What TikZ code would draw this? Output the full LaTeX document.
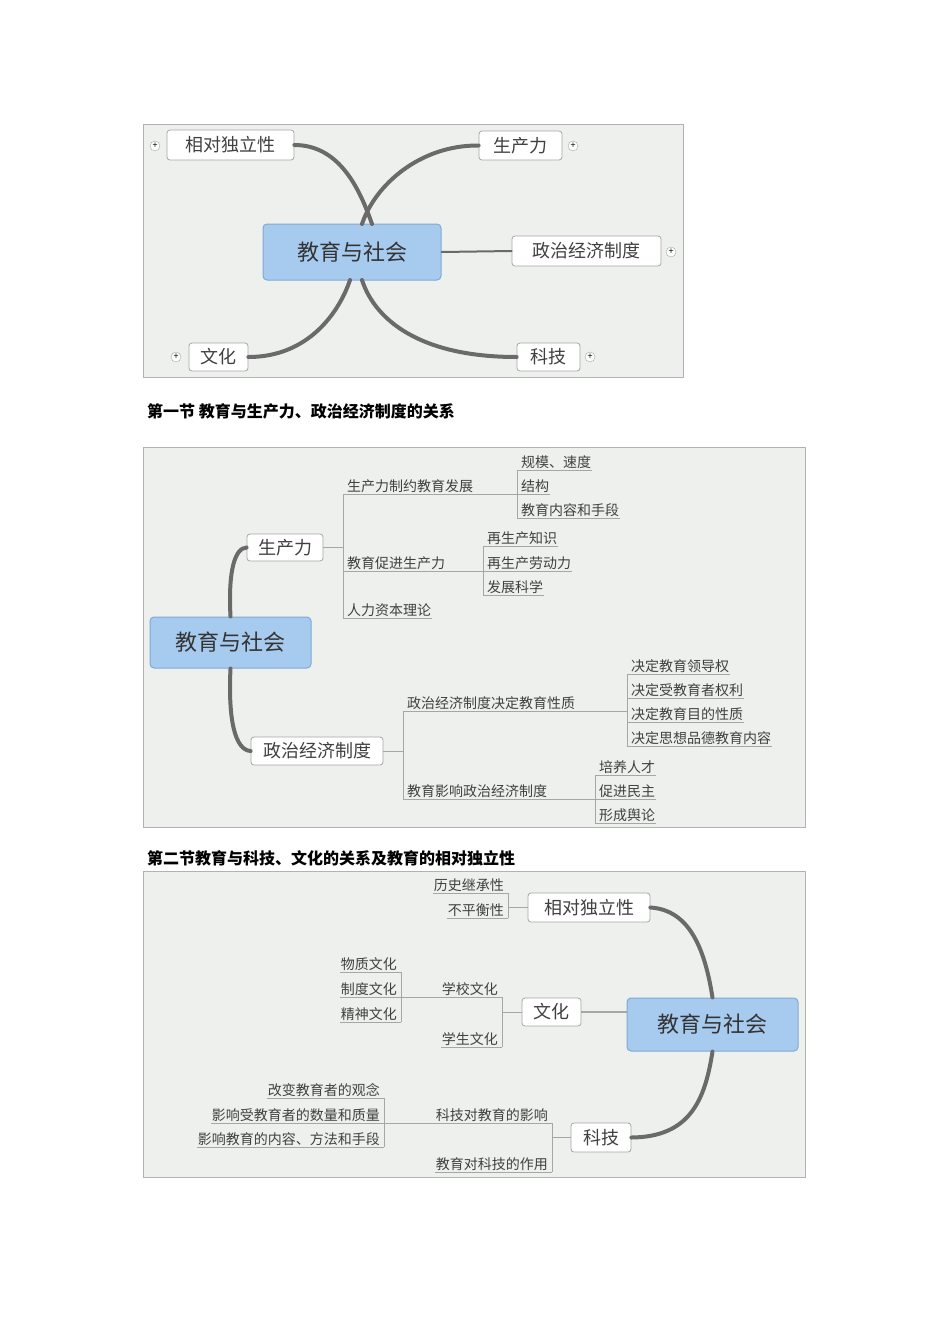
\documentclass[tikz,border=0pt]{standalone}
\usepackage{fontspec}
\setmainfont{Noto Sans CJK SC}
\definecolor{bgc}{HTML}{EEF0EE}
\definecolor{bluec}{HTML}{A7CBEE}
\definecolor{blueb}{HTML}{7FA9D6}
\definecolor{curvc}{HTML}{6A6A6A}
\tikzset{
 panel/.style={fill=bgc,draw=gray!60,line width=0.6pt},
 center/.style={draw=blueb,fill=bluec,rounded corners=4pt,line width=1pt,font=\fontsize{22}{22}\selectfont,text=black!80},
 branch/.style={draw=gray!70,fill=white,rounded corners=3pt,line width=0.8pt,font=\fontsize{18}{18}\selectfont,text=black!75},
 curv/.style={draw=curvc,line width=4pt,line cap=round},
 thin/.style={draw=gray!70,line width=0.8pt},
 leaf/.style={font=\fontsize{14}{14}\selectfont,inner sep=1pt,text=black!75},
 plus/.style={circle,draw=gray!70,fill=white,inner sep=0pt,minimum size=10pt,font=\fontsize{9}{9}\selectfont},
 head/.style={font=\bfseries\fontsize{16}{16}\selectfont,anchor=west,inner sep=0pt}
}
\newcommand\lf[4]{\node[leaf,anchor=south west] (#1) at (#2+3,#3) {#4}; \draw[thin] (#2,#3) -- (#1.south east);}
\newcommand\rf[4]{\node[leaf,anchor=south east] (#1) at (#2-3,#3) {#4}; \draw[thin] (#2,#3) -- (#1.south west);}
\begin{document}
\begin{tikzpicture}[x=1pt,y=-1pt]
\useasboundingbox (0,0) rectangle (950,1344);
% ---------- panel 1
\fill[panel] (143,124) rectangle (683,377);
\node[center,minimum width=178pt,minimum height=56pt] (c1) at (352,252) {教育与社会};
\node[branch,minimum width=127pt,minimum height=30pt] (p1a) at (230.5,145) {相对独立性};
\node[branch,minimum width=83pt,minimum height=29pt] (p1b) at (520.5,145.5) {生产力};
\node[branch,minimum width=149pt,minimum height=30pt] (p1c) at (586.5,251) {政治经济制度};
\node[branch,minimum width=59pt,minimum height=28pt] (p1d) at (218.5,357) {文化};
\node[branch,minimum width=63pt,minimum height=28pt] (p1e) at (548.5,357) {科技};
\draw[curv] (p1a.east) .. controls (340,145) and (360,190) .. (372,224);
\draw[curv] (p1b.west) .. controls (420,145) and (375,185) .. (362,224);
\draw[curv] (p1d.east) .. controls (310,357) and (340,310) .. (350,280);
\draw[curv] (p1e.west) .. controls (420,357) and (375,320) .. (362,280);
\draw[curv,line width=2pt] (c1.east) -- (p1c.west);
\node[plus] (q1) at (155,146) {+};
\node[plus] (q2) at (573,146) {+};
\node[plus] (q3) at (671,252) {+};
\node[plus] (q4) at (176,357) {+};
\node[plus] (q5) at (590,357) {+};
\node[head] (h1) at (147,411) {第一节 教育与生产力、政治经济制度的关系};
% ---------- panel 2
\fill[panel] (143,447) rectangle (805,827);
\node[center,minimum width=161pt,minimum height=51pt] (c2) at (230.5,642.5) {教育与社会};
\node[branch,minimum width=76pt,minimum height=27pt] (s1) at (285,547.5) {生产力};
\node[branch,minimum width=132pt,minimum height=28pt] (s2) at (317,751) {政治经济制度};
\draw[curv] (c2.north) .. controls (228,570) and (235,548) .. (s1.west);
\draw[curv] (c2.south) .. controls (228,720) and (235,750) .. (s2.west);
\draw[thin] (s1.east) -- (343,547.5);
\draw[thin] (343,494) -- (343,618);
\lf{a1}{343}{494}{生产力制约教育发展}
\lf{a2}{343}{571}{教育促进生产力}
\lf{a3}{343}{618}{人力资本理论}
\draw[thin] (a1.south east) -- (517,494); \draw[thin] (517,470) -- (517,518);
\lf{a11}{517}{470}{规模、速度}
\lf{a12}{517}{494}{结构}
\lf{a13}{517}{518}{教育内容和手段}
\draw[thin] (a2.south east) -- (483,571); \draw[thin] (483,546) -- (483,595);
\lf{a21}{483}{546}{再生产知识}
\lf{a22}{483}{571}{再生产劳动力}
\lf{a23}{483}{595}{发展科学}
\draw[thin] (s2.east) -- (403,751); \draw[thin] (403,711) -- (403,799);
\lf{b1}{403}{711}{政治经济制度决定教育性质}
\lf{b2}{403}{799}{教育影响政治经济制度}
\draw[thin] (b1.south east) -- (627,711); \draw[thin] (627,674) -- (627,746);
\lf{b11}{627}{674}{决定教育领导权}
\lf{b12}{627}{698}{决定受教育者权利}
\lf{b13}{627}{722}{决定教育目的性质}
\lf{b14}{627}{746}{决定思想品德教育内容}
\draw[thin] (b2.south east) -- (595,799); \draw[thin] (595,775) -- (595,823);
\lf{b21}{595}{775}{培养人才}
\lf{b22}{595}{799}{促进民主}
\lf{b23}{595}{823}{形成舆论}
\node[head] (h2) at (147,858) {第二节教育与科技、文化的关系及教育的相对独立性};
% ---------- panel 3
\fill[panel] (143,871) rectangle (805,1177);
\node[center,minimum width=171pt,minimum height=53pt] (c3) at (712.5,1024.5) {教育与社会};
\node[branch,minimum width=122pt,minimum height=29pt] (t1) at (589,907.5) {相对独立性};
\node[branch,minimum width=59pt,minimum height=28pt] (t2) at (551.5,1012) {文化};
\node[branch,minimum width=60pt,minimum height=29pt] (t3) at (601,1137.5) {科技};
\draw[curv] (c3.north) .. controls (705,950) and (690,910) .. (t1.east);
\draw[curv] (c3.south) .. controls (705,1100) and (690,1137) .. (t3.east);
\draw[thin,line width=1.5pt] (t2.east) -- (c3.west |- t2.east);
\draw[thin] (t1.west) -- (508,907.5); \draw[thin] (508,893) -- (508,918);
\rf{r11}{508}{893}{历史继承性}
\rf{r12}{508}{918}{不平衡性}
\draw[thin] (t2.west) -- (502,1012); \draw[thin] (502,997) -- (502,1047);
\rf{r21}{502}{997}{学校文化}
\rf{r22}{502}{1047}{学生文化}
\draw[thin] (r21.south west) -- (401,997); \draw[thin] (401,972) -- (401,1022);
\rf{r211}{401}{972}{物质文化}
\rf{r212}{401}{997}{制度文化}
\rf{r213}{401}{1022}{精神文化}
\draw[thin] (t3.west) -- (552,1137.5); \draw[thin] (552,1123) -- (552,1172);
\rf{r31}{552}{1123}{科技对教育的影响}
\rf{r32}{552}{1172}{教育对科技的作用}
\draw[thin] (r31.south west) -- (384,1123); \draw[thin] (384,1098) -- (384,1147);
\rf{r311}{384}{1098}{改变教育者的观念}
\rf{r312}{384}{1123}{影响受教育者的数量和质量}
\rf{r313}{384}{1147}{影响教育的内容、方法和手段}
\end{tikzpicture}
\end{document}
